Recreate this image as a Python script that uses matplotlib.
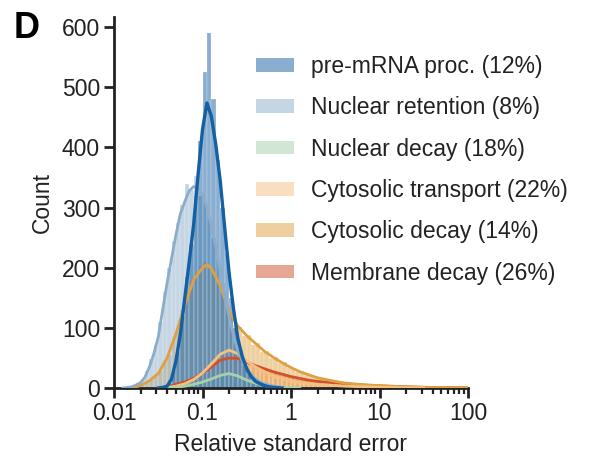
import numpy as np
import matplotlib
matplotlib.use("Agg")
import matplotlib.pyplot as plt
from matplotlib.patches import Patch

plt.rcParams['font.family'] = ['Liberation Sans', 'DejaVu Sans']

# --- data (x in log10 units, bin width 0.05 decade) ---
labels = ["pre-mRNA proc. (12%)", "Nuclear retention (8%)", "Nuclear decay (18%)",
          "Cytosolic transport (22%)", "Cytosolic decay (14%)", "Membrane decay (26%)"]
colors = ["#155fa3", "#8badc9", "#a5d1a9", "#f5c181", "#dea040", "#d1512d"]

bin_w = 0.05

# histogram counts: (left edge in log10, counts)
hist_pre_start = -1.45
hist_pre = [2, 8, 30, 62, 120, 185, 240, 320, 410, 525, 590, 480, 380, 300, 225,
            150, 100, 62, 40, 25, 14, 8, 5, 3, 1]

hist_ret_start = -1.9
hist_ret = [1, 2, 4, 8, 15, 28, 48, 72, 110, 160, 200, 245, 275, 305, 340, 330, 352, 320,
            310, 285, 250, 215, 175, 138, 102, 75, 54, 38, 27, 18, 12, 8, 6, 4, 2, 1]

hist_ndec_start = -1.35
hist_ndec = [1, 2, 3, 4, 6, 6, 9, 12, 13, 18, 19, 23, 25, 22, 22, 17, 16, 11, 10, 6,
             5, 4, 3, 2, 1, 1, 0]

hist_ctr_start = -1.4
hist_ctr = [1, 2, 3, 7, 8, 13, 15, 23, 27, 38, 42, 55, 57, 66, 60, 59, 50, 48, 39, 38,
            30, 29, 22, 22, 17, 16, 13, 12, 10, 9, 7, 7, 6, 5, 5, 4, 4, 3, 3, 3,
            2, 2, 2, 2, 1, 1, 1, 1, 1, 1, 0, 1, 0, 0, 0, 0, 0, 0]

hist_cdec_start = -1.8
hist_cdec = [1, 3, 5, 11, 14, 23, 28, 46, 55, 84, 96, 130, 146, 178, 185, 203, 210, 198,
             199, 176, 165, 133, 124, 104, 102, 86, 88, 72, 75, 60, 62, 50, 52, 41, 43,
             33, 34, 27, 28, 21, 22, 17, 17, 14, 14, 11, 11, 8, 9, 7, 8, 5, 6, 5, 5, 4,
             4, 3, 3, 2, 3, 2, 2, 1, 2, 1, 1, 1, 1, 0, 1, 0, 0, 0, 0, 0]

hist_mem_start = -1.45
hist_mem = [1, 3, 4, 8, 8, 12, 13, 19, 21, 29, 31, 40, 42, 49, 50, 52, 47, 50, 43, 42,
            36, 38, 33, 32, 28, 27, 23, 22, 18, 19, 15, 16, 13, 13, 11, 11, 9, 10, 8, 9,
            7, 7, 6, 6, 5, 5, 4, 4, 3, 4, 3, 3, 2, 2, 2, 2, 1, 2, 1, 1, 1, 1, 1, 0, 1,
            0, 0, 0, 0]

# kde curves: log10 x and counts
kde_pre_x = [-1.5, -1.45, -1.4, -1.35, -1.3, -1.25, -1.2, -1.15, -1.1, -1.05, -1.0, -0.95,
             -0.9, -0.85, -0.8, -0.75, -0.7, -0.65, -0.6, -0.55, -0.5, -0.45, -0.4, -0.35,
             -0.3, -0.25, -0.2, -0.15, -0.1]
kde_pre_y = [0, 1, 3, 15, 45, 90, 150, 210, 272, 355, 430, 474, 452, 405, 345, 268, 192,
             132, 82, 52, 32, 19, 11, 7, 4, 2, 1, 0.5, 0]

kde_ret_x = [-1.9, -1.85, -1.8, -1.75, -1.7, -1.65, -1.6, -1.55, -1.5, -1.45, -1.4, -1.35,
             -1.3, -1.25, -1.2, -1.15, -1.1, -1.05, -1.0, -0.95, -0.9, -0.85, -0.8, -0.75,
             -0.7, -0.65, -0.6, -0.55, -0.5, -0.45, -0.4, -0.35, -0.3, -0.25, -0.2, -0.15, -0.1]
kde_ret_y = [0, 1, 2, 5, 9, 18, 35, 57, 85, 130, 175, 215, 255, 290, 310, 328, 335, 332,
             322, 300, 270, 235, 195, 155, 118, 88, 62, 45, 32, 22, 15, 10, 7, 5, 3, 2, 1]

kde_ndec_x = [-1.4, -1.3, -1.2, -1.1, -1.0, -0.9, -0.8, -0.7, -0.6, -0.5, -0.4, -0.3,
              -0.2, -0.1, 0.0, 0.1]
kde_ndec_y = [0, 1, 3, 6, 10, 15, 21, 24, 20, 13, 8, 4, 2, 1, 0.5, 0]

kde_ctr_x = [-1.5, -1.4, -1.3, -1.2, -1.1, -1.0, -0.9, -0.8, -0.7, -0.6, -0.5, -0.4, -0.3,
             -0.2, -0.1, 0.0, 0.1, 0.2, 0.3, 0.4, 0.5, 0.6, 0.7, 0.8, 0.9, 1.0, 1.1, 1.2,
             1.3, 1.4, 1.5]
kde_ctr_y = [0, 1, 3, 7, 14, 25, 40, 56, 63, 57, 45, 35, 27, 20, 16, 12, 9, 7.5, 6, 5, 4,
             3.2, 2.6, 2.1, 1.7, 1.3, 1, 0.8, 0.6, 0.4, 0.3]

kde_cdec_x = [-1.8, -1.7, -1.6, -1.5, -1.4, -1.3, -1.2, -1.1, -1.0, -0.95, -0.9, -0.8, -0.7,
              -0.6, -0.5, -0.4, -0.3, -0.2, -0.1, 0.0, 0.1, 0.2, 0.3, 0.4, 0.5, 0.6, 0.7,
              0.8, 0.9, 1.0, 1.1, 1.2, 1.3, 1.4, 1.5, 1.6, 1.7, 1.8, 1.9, 2.0]
kde_cdec_y = [0, 4, 12, 24, 50, 90, 138, 180, 200, 205, 199, 170, 128, 103, 87, 74, 61, 51,
              42, 34, 27, 22, 17, 14, 11, 8.5, 7, 5.8, 4.8, 4, 3.2, 2.5, 1.9, 1.5, 1.2,
              0.9, 0.7, 0.5, 0.4, 0.3]

kde_mem_x = [-1.5, -1.4, -1.3, -1.2, -1.1, -1.0, -0.9, -0.8, -0.7, -0.6, -0.5, -0.4, -0.3,
             -0.2, -0.1, 0.0, 0.1, 0.2, 0.3, 0.4, 0.5, 0.6, 0.7, 0.8, 0.9, 1.0, 1.1, 1.2,
             1.3, 1.4, 1.5, 1.6, 1.7, 1.8, 1.9, 2.0]
kde_mem_y = [0, 2, 6, 10, 16, 25, 35, 46, 50, 49, 43, 37, 32, 27, 23, 19, 16, 13, 11, 9.5,
             8.5, 7, 6, 5, 4.2, 3.5, 3, 2.5, 2, 1.6, 1.2, 0.9, 0.7, 0.5, 0.4, 0.3]

hists = [(hist_pre_start, hist_pre), (hist_ret_start, hist_ret), (hist_ndec_start, hist_ndec),
         (hist_ctr_start, hist_ctr), (hist_cdec_start, hist_cdec), (hist_mem_start, hist_mem)]
kdes = [(kde_pre_x, kde_pre_y), (kde_ret_x, kde_ret_y), (kde_ndec_x, kde_ndec_y),
        (kde_ctr_x, kde_ctr_y), (kde_cdec_x, kde_cdec_y), (kde_mem_x, kde_mem_y)]

FS = 16.5
INK = '#222222'

fig = plt.figure(figsize=(5.89, 4.66), dpi=100)
ax = fig.add_axes([114 / 589, 1 - 388 / 466, (468 - 114) / 589, (388 - 17) / 466])
ax.set_xscale('log')

# histograms, drawn last series first so pre-mRNA sits on top
for i in reversed(range(6)):
    start, counts = hists[i]
    counts = np.array(counts, dtype=float)
    edges = start + bin_w * np.arange(len(counts) + 1)
    centers = 0.5 * (edges[:-1] + edges[1:])
    ax.hist(10 ** centers, bins=10 ** edges, weights=counts, color=colors[i], alpha=0.5,
            edgecolor='white', linewidth=0.3)

for i in reversed(range(6)):
    xs, ys = kdes[i]
    lw = 2.4 if i == 0 else 2.0
    ax.plot(10 ** np.array(xs), ys, color=colors[i], lw=lw, zorder=3 + (6 - i))

ax.set_xlim(0.01, 100)
ax.set_ylim(0, 617)
ax.set_xticks([0.01, 0.1, 1, 10, 100])
ax.set_xticklabels(["0.01", "0.1", "1", "10", "100"])
ax.set_yticks([0, 100, 200, 300, 400, 500, 600])

for side in ['top', 'right']:
    ax.spines[side].set_visible(False)
for side in ['left', 'bottom']:
    ax.spines[side].set_linewidth(2.0)
    ax.spines[side].set_color(INK)
ax.tick_params(which='major', length=7, width=2.0, color=INK,
               labelsize=FS, labelcolor=INK, pad=3)
ax.tick_params(which='minor', length=4, width=1.6, color=INK)

ax.set_xlabel("Relative standard error", fontsize=FS, color=INK, labelpad=6)
ax.set_ylabel("Count", fontsize=FS, color=INK, labelpad=6)

handles = [Patch(facecolor=c, alpha=0.5, edgecolor='none') for c in colors]
fig.legend(handles, labels, loc='upper left', bbox_to_anchor=(256 / 589, 1 - 55 / 466),
           frameon=False, fontsize=FS, handlelength=1.65, handleheight=0.55,
           handletextpad=0.75, labelspacing=0.8, borderpad=0, borderaxespad=0,
           labelcolor=INK)

fig.text(14 / 589, 1 - 11 / 466, "D", fontsize=26, fontweight='bold', va='top', ha='left')

fig.savefig("out.png", dpi=100)
